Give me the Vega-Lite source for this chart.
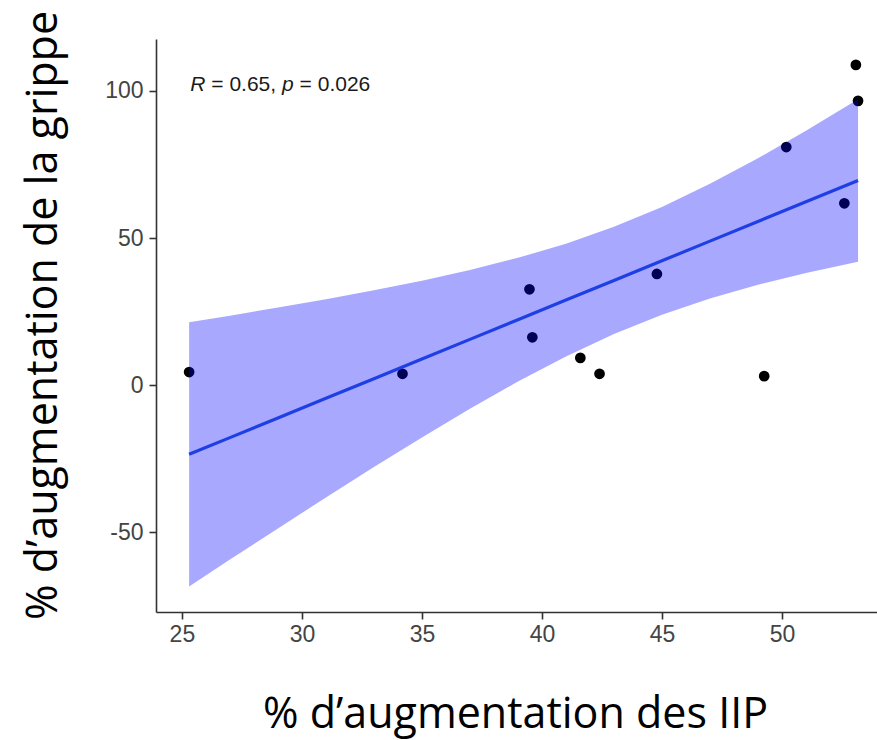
{
  "$schema": "https://vega.github.io/schema/vega-lite/v6.json",
  "width": 721,
  "height": 573,
  "autosize": {"type": "none"},
  "padding": {"left": 156, "top": 39, "right": 0, "bottom": 128},
  "background": "white",
  "config": {
    "view": {"stroke": null},
    "axis": {
      "grid": false,
      "domainColor": "#333333",
      "domainWidth": 1.6,
      "tickColor": "#333333",
      "tickWidth": 1.6,
      "tickSize": 7,
      "labelFont": "Liberation Sans",
      "labelFontSize": 23,
      "labelColor": "#444444",
      "titleFont": "Open Sans",
      "titleFontSize": 43,
      "titleFontWeight": "normal",
      "titleColor": "#000000"
    }
  },
  "datasets": {
    "points": [
      {"x": 25.30, "y": 4.5},
      {"x": 34.19, "y": 3.9},
      {"x": 39.48, "y": 32.6},
      {"x": 39.60, "y": 16.3},
      {"x": 41.60, "y": 9.3},
      {"x": 42.40, "y": 3.9},
      {"x": 44.79, "y": 37.8},
      {"x": 49.26, "y": 3.1},
      {"x": 50.18, "y": 80.9},
      {"x": 52.60, "y": 61.8},
      {"x": 53.08, "y": 108.8},
      {"x": 53.17, "y": 96.6}
    ],
    "band": [
      {"x": 25.3, "fit": -23.46, "lo": -68.31, "hi": 21.39},
      {"x": 27, "fit": -17.78, "lo": -59.21, "hi": 23.65},
      {"x": 29, "fit": -11.11, "lo": -48.60, "hi": 26.38},
      {"x": 31, "fit": -4.44, "lo": -38.11, "hi": 29.24},
      {"x": 33, "fit": 2.24, "lo": -27.79, "hi": 32.27},
      {"x": 35, "fit": 8.91, "lo": -17.72, "hi": 35.54},
      {"x": 37, "fit": 15.59, "lo": -7.98, "hi": 39.16},
      {"x": 39, "fit": 22.26, "lo": 1.25, "hi": 43.27},
      {"x": 41, "fit": 28.94, "lo": 9.79, "hi": 48.08},
      {"x": 43, "fit": 35.61, "lo": 17.41, "hi": 53.81},
      {"x": 45, "fit": 42.28, "lo": 23.98, "hi": 60.58},
      {"x": 47, "fit": 48.96, "lo": 29.51, "hi": 68.40},
      {"x": 49, "fit": 55.63, "lo": 34.16, "hi": 77.10},
      {"x": 51, "fit": 62.31, "lo": 38.17, "hi": 86.44},
      {"x": 53.17, "fit": 69.55, "lo": 41.99, "hi": 97.10}
    ],
    "note": [
      {"x": 25.35, "y": 99.8}
    ]
  },
  "layer": [
    {
      "data": {"name": "points"},
      "mark": {"type": "point", "filled": true, "size": 115, "color": "#000000", "opacity": 1},
      "encoding": {
        "x": {
          "field": "x", "type": "quantitative",
          "scale": {"domain": [23.92, 53.96], "nice": false, "zero": false},
          "axis": {
            "values": [25, 30, 35, 40, 45, 50],
            "title": "% d’augmentation des IIP",
            "titleX": 359, "titleY": 115.6,
            "titleBaseline": "alphabetic", "titleAlign": "center",
            "labelPadding": 4
          }
        },
        "y": {
          "field": "y", "type": "quantitative",
          "scale": {"domain": [-77, 117.6], "nice": false, "zero": false},
          "axis": {
            "values": [-50, 0, 50, 100],
            "labelExpr": "'' + datum.value",
            "title": "% d’augmentation de la grippe",
            "titleX": -100, "titleY": 276, "titleAngle": 270,
            "titleBaseline": "alphabetic", "titleAlign": "center",
            "labelPadding": 6
          }
        }
      }
    },
    {
      "data": {"name": "band"},
      "mark": {"type": "area", "color": "#0000ff", "opacity": 0.34},
      "encoding": {
        "x": {"field": "x", "type": "quantitative"},
        "y": {"field": "lo", "type": "quantitative"},
        "y2": {"field": "hi"}
      }
    },
    {
      "data": {"name": "band"},
      "mark": {"type": "line", "color": "#1f3fe6", "strokeWidth": 3.2},
      "encoding": {
        "x": {"field": "x", "type": "quantitative"},
        "y": {"field": "fit", "type": "quantitative"}
      }
    },
    {
      "data": {"name": "note"},
      "mark": {"type": "text", "text": "R", "font": "Liberation Sans", "fontSize": 21, "fontStyle": "italic", "align": "left", "baseline": "alphabetic", "color": "#1a1a1a"},
      "encoding": {"x": {"field": "x", "type": "quantitative"}, "y": {"field": "y", "type": "quantitative"}}
    },
    {
      "data": {"name": "note"},
      "mark": {"type": "text", "text": "= 0.65,", "dx": 21, "font": "Liberation Sans", "fontSize": 21, "align": "left", "baseline": "alphabetic", "color": "#1a1a1a"},
      "encoding": {"x": {"field": "x", "type": "quantitative"}, "y": {"field": "y", "type": "quantitative"}}
    },
    {
      "data": {"name": "note"},
      "mark": {"type": "text", "text": "p", "dx": 91.7, "font": "Liberation Sans", "fontSize": 21, "fontStyle": "italic", "align": "left", "baseline": "alphabetic", "color": "#1a1a1a"},
      "encoding": {"x": {"field": "x", "type": "quantitative"}, "y": {"field": "y", "type": "quantitative"}}
    },
    {
      "data": {"name": "note"},
      "mark": {"type": "text", "text": "= 0.026", "dx": 109.3, "font": "Liberation Sans", "fontSize": 21, "align": "left", "baseline": "alphabetic", "color": "#1a1a1a"},
      "encoding": {"x": {"field": "x", "type": "quantitative"}, "y": {"field": "y", "type": "quantitative"}}
    }
  ]
}
